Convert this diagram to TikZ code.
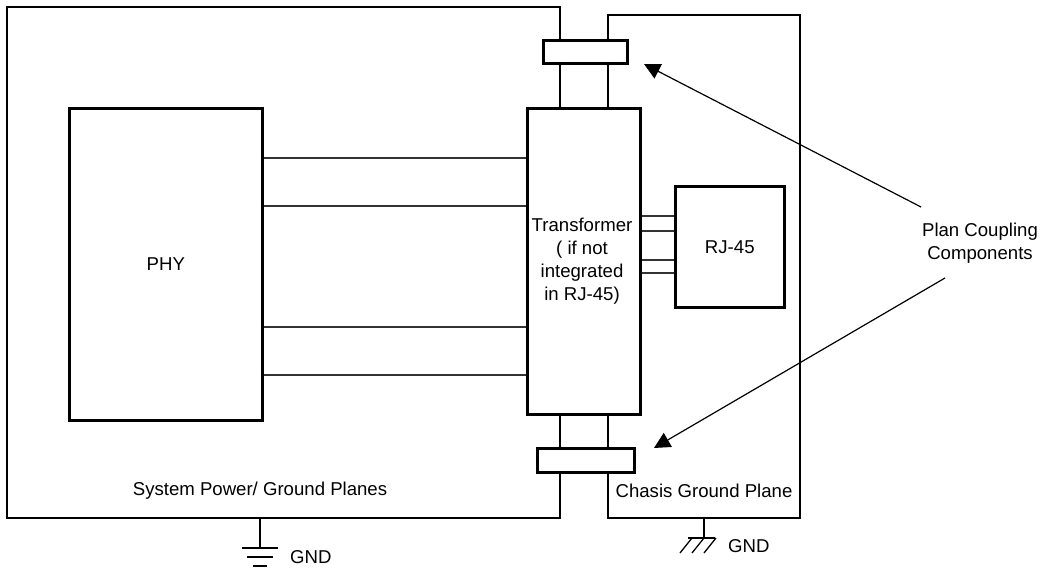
\documentclass[tikz,border=0pt]{standalone}
\usepackage{fontspec}
\setmainfont{Liberation Sans}
\usetikzlibrary{arrows.meta}
\begin{document}
\begin{tikzpicture}[x=1pt,y=-1pt,
  every node/.style={font=\fontsize{18.6}{23}\selectfont, inner sep=0pt},
  thick line/.style={line width=2.6pt},
  box/.style={draw, line width=2.6pt, rectangle, anchor=north west},
  wire/.style={line width=1.3pt, draw=black!80},
  pointer/.style={line width=1.2pt, -{Triangle[length=16pt,width=16pt]}},
  label/.style={align=center}]
\useasboundingbox (0,0) rectangle (1042,569);
% boxes
\node[box, minimum width=193pt, minimum height=312pt] (phy) at (68,107) {};
\node at (phy.center) {PHY};
\node[box, minimum width=113pt, minimum height=306pt] (tr) at (526,107) {};
\node[label] at (582,261) {Transformer\\( if not\\integrated\\in RJ-45)};
\node[box, minimum width=109pt, minimum height=121pt] (rj) at (674,185) {};
\node at (rj.center) {RJ-45};
\node[box, minimum width=84pt, minimum height=23pt] (ctop) at (542,39) {};
\node[box, minimum width=97pt, minimum height=24pt] (cbot) at (536,447) {};
% plane outlines
\draw[thick line] (560,39) -- (560,7) -- (7,7) -- (7,518) -- (560,518) -- (560,471);
\draw[thick line] (608,39) -- (608,15) -- (800,15) -- (800,518) -- (608,518) -- (608,471);
\draw[thick line] (560,62) -- (560,107) (608,62) -- (608,107);
\draw[thick line] (560,413) -- (560,447) (608,413) -- (608,447);
% PHY to transformer
\foreach \y in {158,206,327,375} \draw[wire] (phy.east |- 0,\y) -- (tr.west |- 0,\y);
% transformer to RJ45
\foreach \y in {216,231,260,273} \draw[wire] (tr.east |- 0,\y) -- (rj.west |- 0,\y);
% labels
\node (sys) at (260,491) {System Power/ Ground Planes};
\node (chs) at (704,491) {Chasis Ground Plane};
\node[label] (plan) at (980,243) {Plan Coupling\\Components};
\coordinate (a1s) at (921,207);
\coordinate (a1e) at (644,64);
\coordinate (a2s) at (945,278);
\coordinate (a2e) at (654,448);
\draw[pointer] (a1s) -- (a1e);
\draw[pointer] (a2s) -- (a2e);
% grounds
\draw[line width=1.3pt] (260,518) -- (260,548);
\draw[line width=1.3pt] (242,548) -- (278,548) (247,557) -- (273,557) (253,566) -- (267,566);
\node[anchor=west] (g1) at (290,557) {GND};
\draw[line width=1.3pt] (704,518) -- (704,538) (688,538) -- (715,538);
\foreach \x in {692,704,716} \draw[line width=1.3pt] (\x,538) -- (\x-12,553);
\node[anchor=west] (g2) at (728,546) {GND};
\end{tikzpicture}
\end{document}
